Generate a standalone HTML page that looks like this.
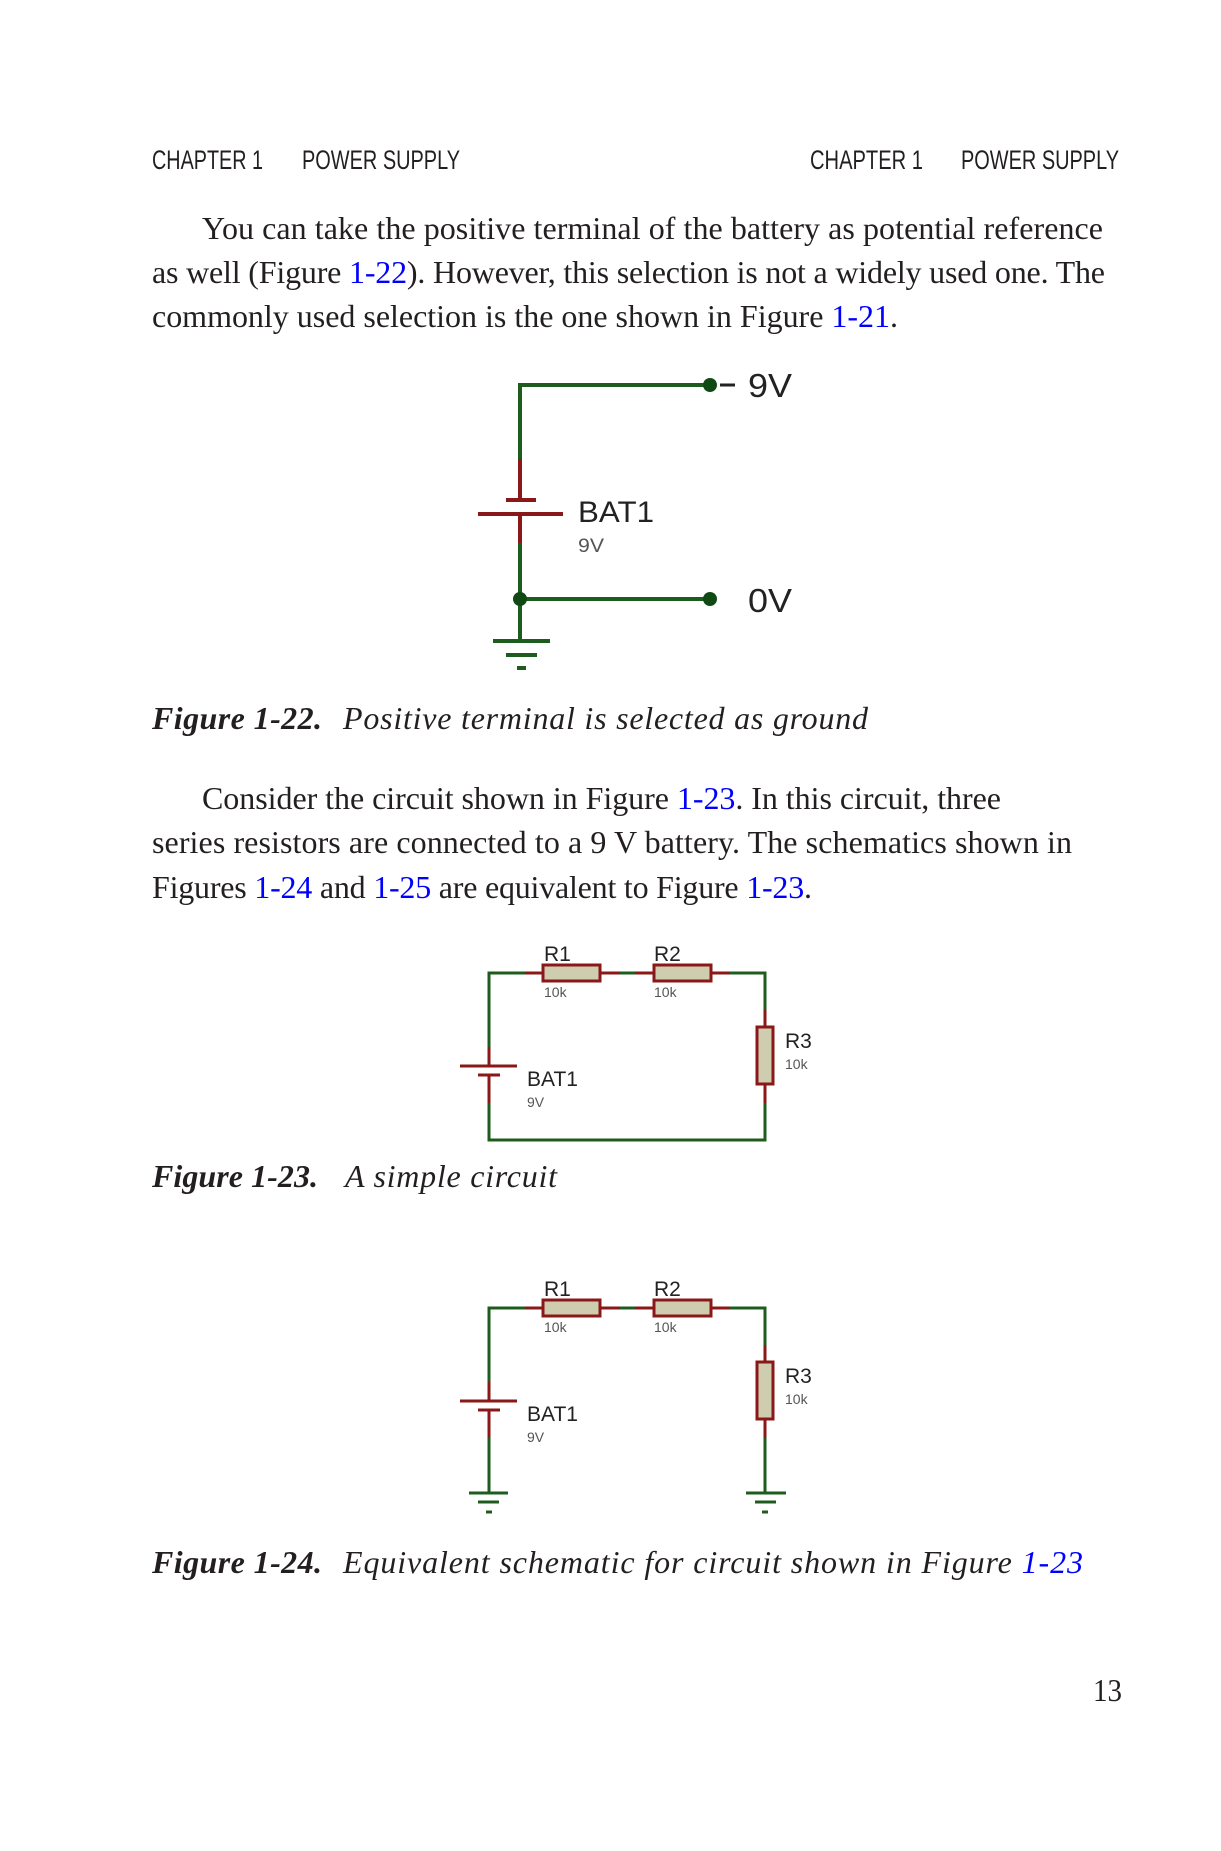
<!DOCTYPE html>
<html>
<head>
<meta charset="utf-8">
<style>
  html, body { margin: 0; padding: 0; background: #ffffff; }
  svg { display: block; }
  .hdr { font-family: "Liberation Sans", sans-serif; font-size: 27px; fill: #231f20; }
  .body { font-family: "Liberation Serif", serif; font-size: 32px; fill: #231f20; }
  .capb { font-family: "Liberation Serif", serif; font-size: 32px; font-weight: bold; font-style: italic; fill: #231f20; }
  .capi { font-family: "Liberation Serif", serif; font-size: 32px; font-style: italic; fill: #231f20; }
  .lnk { fill: #0000ff; }
  .sch { font-family: "Liberation Sans", sans-serif; fill: #222222; }
  .sub { font-family: "Liberation Sans", sans-serif; fill: #555555; }
</style>
</head>
<body>
<svg width="1221" height="1851" viewBox="0 0 1221 1851" xmlns="http://www.w3.org/2000/svg">
  <rect width="1221" height="1851" fill="#ffffff"/>

  <!-- Headers -->
  <text class="hdr" x="152" y="169" textLength="111" lengthAdjust="spacingAndGlyphs">CHAPTER 1</text>
  <text class="hdr" x="302" y="169" textLength="158" lengthAdjust="spacingAndGlyphs">POWER SUPPLY</text>
  <text class="hdr" x="810" y="169" textLength="113" lengthAdjust="spacingAndGlyphs">CHAPTER 1</text>
  <text class="hdr" x="961" y="169" textLength="158" lengthAdjust="spacingAndGlyphs">POWER SUPPLY</text>

  <!-- Paragraph 1 -->
  <text class="body" x="202" y="239" textLength="901" lengthAdjust="spacing">You can take the positive terminal of the battery as potential reference</text>
  <text class="body" x="152" y="283" textLength="953" lengthAdjust="spacing">as well (Figure <tspan class="lnk">1-22</tspan>). However, this selection is not a widely used one. The</text>
  <text class="body" x="152" y="327" textLength="746" lengthAdjust="spacing">commonly used selection is the one shown in Figure <tspan class="lnk">1-21</tspan>.</text>

  <!-- Figure 1-22 schematic -->
  <g fill="none" stroke-linecap="butt">
    <path d="M520,459 V385 H709" stroke="#1d5c1d" stroke-width="4"/>
    <path d="M520,459 V500" stroke="#8b1818" stroke-width="4"/>
    <path d="M506,500 H536" stroke="#8b1818" stroke-width="4"/>
    <path d="M478,514 H563" stroke="#8b1818" stroke-width="4"/>
    <path d="M520,514 V543" stroke="#8b1818" stroke-width="4"/>
    <path d="M520,543 V641" stroke="#1d5c1d" stroke-width="4"/>
    <path d="M520,599 H709" stroke="#1d5c1d" stroke-width="4"/>
    <path d="M493,641 H550" stroke="#1d5c1d" stroke-width="4"/>
    <path d="M506,655 H537" stroke="#1d5c1d" stroke-width="4"/>
    <path d="M517,668 H526" stroke="#1d5c1d" stroke-width="4"/>
    <path d="M720,385 H735" stroke="#222222" stroke-width="3"/>
  </g>
  <circle cx="710" cy="385" r="7" fill="#0f4a15"/>
  <circle cx="710" cy="599" r="7" fill="#0f4a15"/>
  <circle cx="520" cy="599" r="7" fill="#0f4a15"/>
  <text class="sch" x="748" y="397" font-size="33" textLength="44" lengthAdjust="spacingAndGlyphs">9V</text>
  <text class="sch" x="748" y="612" font-size="33" textLength="44" lengthAdjust="spacingAndGlyphs">0V</text>
  <text class="sch" x="578" y="522" font-size="30" textLength="76" lengthAdjust="spacingAndGlyphs">BAT1</text>
  <text class="sub" x="578" y="552" font-size="19" textLength="26" lengthAdjust="spacingAndGlyphs">9V</text>

  <!-- Caption 1-22 -->
  <text class="capb" x="152" y="729" textLength="170" lengthAdjust="spacing">Figure 1-22.</text>
  <text class="capi" x="343" y="729" textLength="525" lengthAdjust="spacing">Positive terminal is selected as ground</text>

  <!-- Paragraph 2 -->
  <text class="body" x="202" y="809" textLength="799" lengthAdjust="spacing">Consider the circuit shown in Figure <tspan class="lnk">1-23</tspan>. In this circuit, three</text>
  <text class="body" x="152" y="853" textLength="920" lengthAdjust="spacing">series resistors are connected to a 9 V battery. The schematics shown in</text>
  <text class="body" x="152" y="898" textLength="660" lengthAdjust="spacing">Figures <tspan class="lnk">1-24</tspan> and <tspan class="lnk">1-25</tspan> are equivalent to Figure <tspan class="lnk">1-23</tspan>.</text>

  <!-- Figure 1-23 schematic -->
  <g fill="none" stroke-width="3">
    <path d="M489,1047 V973 H525" stroke="#1d5c1d"/>
    <path d="M489,1047 V1066" stroke="#8b1818"/>
    <path d="M460,1066 H517" stroke="#8b1818"/>
    <path d="M478,1075 H500" stroke="#8b1818"/>
    <path d="M489,1075 V1103" stroke="#8b1818"/>
    <path d="M489,1103 V1140 H765 V1103" stroke="#1d5c1d"/>
    <path d="M525,973 H543" stroke="#8b1818"/>
    <path d="M600,973 H620" stroke="#8b1818"/>
    <path d="M620,973 H635" stroke="#1d5c1d"/>
    <path d="M635,973 H654" stroke="#8b1818"/>
    <path d="M711,973 H730" stroke="#8b1818"/>
    <path d="M730,973 H765 V1010" stroke="#1d5c1d"/>
    <path d="M765,1010 V1027" stroke="#8b1818"/>
    <path d="M765,1084 V1103" stroke="#8b1818"/>
    <rect x="543" y="965" width="57" height="16" fill="#cfcdb0" stroke="#8b1818"/>
    <rect x="654" y="965" width="57" height="16" fill="#cfcdb0" stroke="#8b1818"/>
    <rect x="757" y="1027" width="16" height="57" fill="#cfcdb0" stroke="#8b1818"/>
  </g>
  <text class="sch" x="544" y="961" font-size="21">R1</text>
  <text class="sch" x="654" y="961" font-size="21">R2</text>
  <text class="sub" x="544" y="997" font-size="14">10k</text>
  <text class="sub" x="654" y="997" font-size="14">10k</text>
  <text class="sch" x="785" y="1048" font-size="21">R3</text>
  <text class="sub" x="785" y="1069" font-size="14">10k</text>
  <text class="sch" x="527" y="1086" font-size="21">BAT1</text>
  <text class="sub" x="527" y="1107" font-size="14">9V</text>

  <!-- Caption 1-23 -->
  <text class="capb" x="152" y="1187" textLength="166" lengthAdjust="spacing">Figure 1-23.</text>
  <text class="capi" x="345" y="1187" textLength="212" lengthAdjust="spacing">A simple circuit</text>

  <!-- Figure 1-24 schematic -->
  <g fill="none" stroke-width="3">
    <path d="M489,1382 V1308 H525" stroke="#1d5c1d"/>
    <path d="M489,1382 V1401" stroke="#8b1818"/>
    <path d="M460,1401 H517" stroke="#8b1818"/>
    <path d="M478,1410 H500" stroke="#8b1818"/>
    <path d="M489,1410 V1438" stroke="#8b1818"/>
    <path d="M489,1438 V1493" stroke="#1d5c1d"/>
    <path d="M469,1493 H508" stroke="#1d5c1d"/>
    <path d="M478,1502 H499" stroke="#1d5c1d"/>
    <path d="M486,1512 H492" stroke="#1d5c1d"/>

    <path d="M525,1308 H543" stroke="#8b1818"/>
    <path d="M600,1308 H620" stroke="#8b1818"/>
    <path d="M620,1308 H635" stroke="#1d5c1d"/>
    <path d="M635,1308 H654" stroke="#8b1818"/>
    <path d="M711,1308 H730" stroke="#8b1818"/>
    <path d="M730,1308 H765 V1345" stroke="#1d5c1d"/>
    <path d="M765,1345 V1362" stroke="#8b1818"/>
    <path d="M765,1419 V1438" stroke="#8b1818"/>
    <path d="M765,1438 V1493" stroke="#1d5c1d"/>
    <path d="M746,1493 H786" stroke="#1d5c1d"/>
    <path d="M755,1502 H776" stroke="#1d5c1d"/>
    <path d="M762,1512 H768" stroke="#1d5c1d"/>

    <rect x="543" y="1300" width="57" height="16" fill="#cfcdb0" stroke="#8b1818"/>
    <rect x="654" y="1300" width="57" height="16" fill="#cfcdb0" stroke="#8b1818"/>
    <rect x="757" y="1362" width="16" height="57" fill="#cfcdb0" stroke="#8b1818"/>
  </g>
  <text class="sch" x="544" y="1296" font-size="21">R1</text>
  <text class="sch" x="654" y="1296" font-size="21">R2</text>
  <text class="sub" x="544" y="1332" font-size="14">10k</text>
  <text class="sub" x="654" y="1332" font-size="14">10k</text>
  <text class="sch" x="785" y="1383" font-size="21">R3</text>
  <text class="sub" x="785" y="1404" font-size="14">10k</text>
  <text class="sch" x="527" y="1421" font-size="21">BAT1</text>
  <text class="sub" x="527" y="1442" font-size="14">9V</text>

  <!-- Caption 1-24 -->
  <text class="capb" x="152" y="1573" textLength="170" lengthAdjust="spacing">Figure 1-24.</text>
  <text class="capi" x="343" y="1573" textLength="740" lengthAdjust="spacing">Equivalent schematic for circuit shown in Figure <tspan class="lnk">1-23</tspan></text>

  <!-- Page number -->
  <text class="body" x="1093" y="1701" font-size="29" textLength="29" lengthAdjust="spacingAndGlyphs">13</text>
</svg>
</body>
</html>
